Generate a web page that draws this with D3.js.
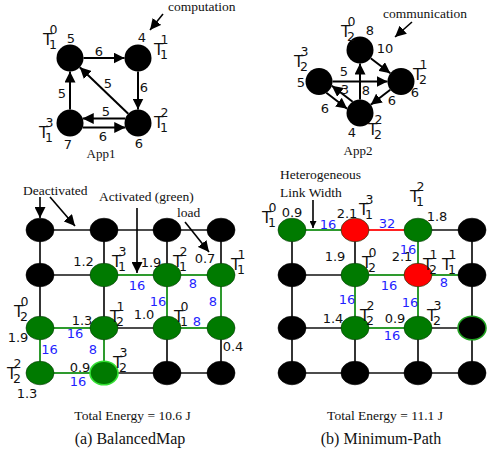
<!DOCTYPE html>
<html><head><meta charset="utf-8">
<script src="https://cdn.jsdelivr.net/npm/d3@7"></script>
<style>html,body{margin:0;padding:0;background:#fff}</style>
</head><body><svg id="c" width="487" height="457"></svg>
<script>
// ================= DATA =================
// Application task graphs: computation per task, edges [from, to, communication]
const app1Comp = [5, 4, 6, 7];
const app1Edges = [[0,1,6],[1,2,6],[2,0,5],[3,0,5],[2,3,5],[3,2,6]];
const app2Comp = [8, 6, 4, 5];
const app2Edges = [[0,1,10],[3,1,5],[2,0,8],[1,2,6],[2,3,3],[3,2,6]];
// task placement in each drawing (unit grid col,row)
const app1Place = [[0,0],[1,0],[1,1],[0,1]];
const app2Place = [[1,0],[2,1],[1,2],[0,1]];

const gridIndex = [0, 1, 2, 3];
// Panel (a) BalancedMap
const aActive = [[1,1],[1,2],[1,3],[2,0],[2,1],[2,2],[2,3],[3,0],[3,1]];
const aLinks = [[1,1,1,2,16],[1,2,1,3,8],[1,2,2,2,16],[1,3,2,3,8],[2,2,2,3,8],[2,0,2,1,16],[2,0,3,0,16],[2,1,3,1,8],[3,0,3,1,16]];
const aTasks = [[1,1,1,3],[1,2,1,2],[1,3,1,1],[2,2,1,0],[2,0,2,0],[2,1,2,1],[3,0,2,2],[3,1,2,3]]; // row,col,app,task
const aLoads = [[1,1,"1.2"],[1,2,"1.9"],[1,3,"0.7"],[2,0,"1.9"],[2,1,"1.3"],[2,2,"1.0"],[2,3,"0.4"],[3,0,"1.3"],[3,1,"0.9"]];
const aEnergy = "10.6";
// Panel (b) Minimum-Path
const bGreen = [[0,0],[0,2],[1,1],[2,1],[2,2]];
const bRed = [[0,1],[1,2]];
const bLinks = [[0,0,0,1,16,"g"],[0,1,0,2,32,"r"],[0,2,1,2,16,"g"],[1,1,1,2,16,"g"],[1,2,1,3,8,"g"],[1,1,2,1,16,"g"],[1,2,2,2,16,"g"],[2,1,2,2,16,"g"]];
const bTasks = [[0,0,1,0],[0,1,1,3],[0,2,1,2],[1,1,2,0],[1,2,2,1],[1,2,1,1],[2,1,2,2],[2,2,2,3]];
const bLoads = [[0,0,"0.9"],[0,1,"2.1"],[0,2,"1.8"],[1,1,"1.9"],[1,2,"2.1"],[2,1,"1.4"],[2,2,"0.9"]];
const bEnergy = "11.1";

// ================= LAYOUT / STYLE =================
const L = {
  aTaskOff: [[8,-8],[6,-8],[10,-5],[7,-6],[-26,-11],[6,-6],[-33,6],[9,-5]],
  aLoadOff: [[-20.5,-9],[-16,-8],[-16,-12],[-22,14],[-22,-3],[-23,-9],[12,23],[-13,25],[-24,-1]],
  aLinkOff: [[1.5,15],[-1,13],[-9,4.5],[-8,4.5],[3,-2.5],[3,10],[9.5,3.5],[-11,3.5],[6,13]],
  bTaskOff: [[-30,-7],[4,-15],[-8,-28],[7,-7],[5,-5],[24,-5],[5,-7],[9,-7]],
  bLoadOff: [[0,-13],[-8,-12],[19,-9],[-20,-14],[-16,-14],[-22,-5],[-23,-5]],
  bLinkOff: [[4.5,-1],[0.5,-2],[-10,1],[2.5,15],[-1,12],[-8,2],[-8,5],[5.5,12]],
  app1TaskOff: [[-27,-13],[16,-3],[16,5],[-31,15]],
  app1CompOff: [[1,-15],[4,-16],[1,25],[-2,26]],
  app1EdgeOff: [[-5,-2],[6,1.5],[4,-2.5],[-8,7.5],[2,-7],[-1,18]],
  app2TaskOff: [[-19,-13],[12,-1.5],[8,22],[-25,-14.5]],
  app2CompOff: [[10,-15],[14,15.5],[-8,24],[-18,5.5]],
  app2EdgeOff: [[4.5,-12.75],[-16,-5.5],[6,13.5],[11.5,7.75],[5.5,-3.25],[-14.5,15.75]],
};
const SANS = "'DejaVu Sans', Verdana, sans-serif";
const SERIF = "'Liberation Serif', 'Times New Roman', serif";
const GREEN = "#007a00", GLINE = "#2e9a2e", RED = "#ff0000", BLUE = "#1f1fff";

const svg = d3.select("#c");
svg.append("rect").attr("width",487).attr("height",457).attr("fill","#fff");
const defs = svg.append("defs");
function marker(id, len, wid) {
  defs.append("marker").attr("id", id).attr("markerUnits","userSpaceOnUse")
    .attr("viewBox", `0 0 ${len} ${wid}`).attr("refX", len).attr("refY", wid/2)
    .attr("markerWidth", len).attr("markerHeight", wid).attr("orient","auto")
    .append("path").attr("d", `M0,0L${len},${wid/2}L0,${wid}Z`).attr("fill","#000");
}
marker("arr", 11, 11);
marker("arrS", 7, 7);

function tLabel(g, x, y, sub, sup) {
  const t = g.append("g").attr("font-family", SANS).attr("fill", "#111");
  t.append("text").attr("x", x).attr("y", y).attr("font-size", 15.5).text("T");
  t.append("text").attr("x", x + 6.5).attr("y", y - 11).attr("font-size", 12.5).text(sup);
  t.append("text").attr("x", x + 6).attr("y", y + 3.5).attr("font-size", 12.5).text(sub);
}
function num(g, x, y, v, color) {
  g.append("text").attr("x", x).attr("y", y).attr("text-anchor","middle")
    .attr("font-family", SANS).attr("font-size", 13).attr("fill", color || "#111").text(v);
}

// ================= APP GRAPHS =================
function drawApp(comp, edges, place, xs, ys, appNo, off) {
  const g = svg.append("g");
  const P = place.map(p => [xs(p[0]), ys(p[1])]);
  const R = 13.5;
  const has = new Set(edges.map(e => e[0] + "-" + e[1]));
  edges.forEach((e, i) => {
    const [a, b] = [P[e[0]], P[e[1]]];
    const dx = b[0]-a[0], dy = b[1]-a[1], d = Math.hypot(dx, dy);
    const ux = dx/d, uy = dy/d;
    const o = has.has(e[1] + "-" + e[0]) ? 4.5 : 0;
    const nx = -uy*o, ny = ux*o;
    const sh = Math.sqrt(Math.max(R*R - o*o, 0));
    g.append("line")
      .attr("x1", a[0] + ux*sh + nx).attr("y1", a[1] + uy*sh + ny)
      .attr("x2", b[0] - ux*sh + nx).attr("y2", b[1] - uy*sh + ny)
      .attr("stroke","#000").attr("stroke-width",2).attr("marker-end","url(#arr)");
    const m = [(a[0]+b[0])/2, (a[1]+b[1])/2];
    num(g, m[0] + off.edge[i][0], m[1] + off.edge[i][1], e[2]);
  });
  g.selectAll("circle.n").data(P).join("circle").attr("class","n")
    .attr("cx", d => d[0]).attr("cy", d => d[1]).attr("r", R).attr("fill","#000");
  P.forEach((p, i) => {
    tLabel(g, p[0] + off.task[i][0], p[1] + off.task[i][1], appNo, i);
    num(g, p[0] + off.comp[i][0], p[1] + off.comp[i][1], comp[i]);
  });
}
drawApp(app1Comp, app1Edges, app1Place,
  d3.scaleLinear().domain([0,1]).range([70,138]), d3.scaleLinear().domain([0,1]).range([58,123]), 1,
  {edge: L.app1EdgeOff, task: L.app1TaskOff, comp: L.app1CompOff});
drawApp(app2Comp, app2Edges, app2Place,
  d3.scaleLinear().domain([0,2]).range([319,401]), d3.scaleLinear().domain([0,2]).range([50,113]), 2,
  {edge: L.app2EdgeOff, task: L.app2TaskOff, comp: L.app2CompOff});

// ================= MESH PANELS =================
const rowY = d3.scaleOrdinal().domain(gridIndex).range([230,275,328,373]);
const colA = d3.scaleOrdinal().domain(gridIndex).range([40,104,167,221]);
const colB = d3.scaleOrdinal().domain(gridIndex).range([292,355,418,472]);

function drawMesh(xs, links, linkOff, fillOf, ringOf, tasks, taskOff, loads, loadOff) {
  const g = svg.append("g");
  const all = [];
  gridIndex.forEach(r => gridIndex.forEach(c => {
    if (c < 3) all.push([r,c,r,c+1]);
    if (r < 3) all.push([r,c,r+1,c]);
  }));
  const key = l => l.slice(0,4).join(",");
  const colored = new Set(links.map(key));
  g.selectAll("line.k").data(all.filter(l => !colored.has(key(l)))).join("line").attr("class","k")
    .attr("x1", d => xs(d[1])).attr("y1", d => rowY(d[0]))
    .attr("x2", d => xs(d[3])).attr("y2", d => rowY(d[2]))
    .attr("stroke","#111").attr("stroke-width",1.7);
  g.selectAll("line.c").data(links).join("line").attr("class","c")
    .attr("x1", d => xs(d[1])).attr("y1", d => rowY(d[0]))
    .attr("x2", d => xs(d[3])).attr("y2", d => rowY(d[2]))
    .attr("stroke", d => d[5] === "r" ? "#f22" : GLINE).attr("stroke-width",2);
  const nodes = [];
  gridIndex.forEach(r => gridIndex.forEach(c => nodes.push([r,c])));
  g.selectAll("ellipse").data(nodes).join("ellipse")
    .attr("cx", d => xs(d[1])).attr("cy", d => rowY(d[0])).attr("rx", 14).attr("ry", 11.8)
    .attr("fill", d => fillOf(d))
    .attr("stroke", d => ringOf(d) || (fillOf(d) === "#000" ? "#000" : "#0a3a0a"))
    .attr("stroke-width", d => ringOf(d) ? 1.6 : 0.6);
  links.forEach((l, i) => {
    const mx = (xs(l[1]) + xs(l[3]))/2, my = (rowY(l[0]) + rowY(l[2]))/2;
    num(g, mx + linkOff[i][0], my + linkOff[i][1], l[4], BLUE);
  });
  tasks.forEach((t, i) => tLabel(g, xs(t[1]) + taskOff[i][0], rowY(t[0]) + taskOff[i][1], t[2], t[3]));
  loads.forEach((t, i) => num(g, xs(t[1]) + loadOff[i][0], rowY(t[0]) + loadOff[i][1], t[2]));
}
const inList = (list, d) => list.some(p => p[0] === d[0] && p[1] === d[1]);
drawMesh(colA, aLinks, L.aLinkOff,
  d => inList(aActive, d) ? GREEN : "#000",
  d => (d[0] === 3 && d[1] === 1) ? "#33e033" : null,
  aTasks, L.aTaskOff, aLoads, L.aLoadOff);
drawMesh(colB, bLinks, L.bLinkOff,
  d => inList(bRed, d) ? RED : inList(bGreen, d) ? GREEN : "#000",
  d => (d[0] === 2 && d[1] === 3) ? "#1f9f1f" : null,
  bTasks, L.bTaskOff, bLoads, L.bLoadOff);

// ================= ANNOTATIONS =================
const ann = svg.append("g").attr("font-family", SERIF).attr("fill", "#111");
function txt(x, y, s, size, anchor) {
  ann.append("text").attr("x", x).attr("y", y).attr("font-size", size)
    .attr("text-anchor", anchor || "start").text(s);
}
function arrow(x1, y1, x2, y2, m) {
  ann.append("line").attr("x1",x1).attr("y1",y1).attr("x2",x2).attr("y2",y2)
    .attr("stroke","#000").attr("stroke-width",1.6).attr("marker-end", `url(#${m || "arr"})`);
}
txt(168, 10.5, "computation", 13.5);
arrow(163, 14, 150, 30);
txt(383, 18, "communication", 13.5);
arrow(412, 22, 395, 37);
txt(101, 158, "App1", 13, "middle");
txt(358, 155, "App2", 13, "middle");
txt(23, 195, "Deactivated", 13.5);
arrow(40, 197, 40, 218);
arrow(50, 197, 75, 226);
txt(99, 201, "Activated (green)", 13.5);
arrow(137, 208, 137, 273);
txt(177, 217, "load", 13.5);
arrow(185, 222, 209, 252);
txt(280, 179, "Heterogeneous", 13.5);
txt(280, 197, "Link Width", 13.5);
arrow(313, 200, 313, 228, "arrS");
txt(132.5, 420, `Total Energy = ${aEnergy} J`, 13.5, "middle");
txt(130, 443.5, "(a) BalancedMap", 16, "middle");
txt(385, 420, `Total Energy = ${bEnergy} J`, 13.5, "middle");
txt(381, 443.5, "(b) Minimum-Path", 16, "middle");
</script></body></html>
